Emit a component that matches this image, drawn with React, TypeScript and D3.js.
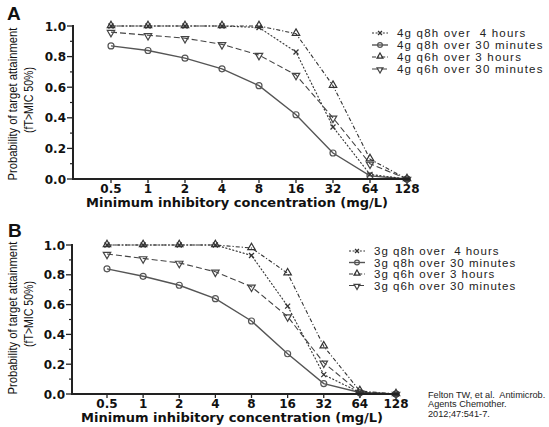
import React from "react";
import * as d3 from "d3";

const categories = ["0.5", "1", "2", "4", "8", "16", "32", "64", "128"];
const yTicks = [0, 0.2, 0.4, 0.6, 0.8, 1.0];
const yMinorTicks = [0.1, 0.3, 0.5, 0.7, 0.9];

// Panel A (4 g)
const a_q8h_4h = [1, 1, 1, 1, 0.99, 0.83, 0.34, 0.03, 0];
const a_q8h_30m = [0.87, 0.84, 0.79, 0.72, 0.61, 0.42, 0.17, 0.02, 0];
const a_q6h_3h = [1, 1, 1, 1, 1.0, 0.95, 0.61, 0.13, 0];
const a_q6h_30m = [0.96, 0.94, 0.92, 0.88, 0.81, 0.68, 0.4, 0.1, 0];
const a_labels = [
  "4g q8h over  4 hours",
  "4g q8h over 30 minutes",
  "4g q6h over 3 hours",
  "4g q6h over 30 minutes",
];

// Panel B (3 g)
const b_q8h_4h = [1, 1, 1, 1, 0.93, 0.59, 0.13, 0.01, 0];
const b_q8h_30m = [0.84, 0.79, 0.73, 0.64, 0.49, 0.27, 0.07, 0.01, 0];
const b_q6h_3h = [1, 1, 1, 1, 0.98, 0.81, 0.32, 0.02, 0];
const b_q6h_30m = [0.94, 0.91, 0.88, 0.82, 0.72, 0.52, 0.21, 0.01, 0];
const b_labels = [
  "3g q8h over  4 hours",
  "3g q8h over 30 minutes",
  "3g q6h over 3 hours",
  "3g q6h over 30 minutes",
];

const citation = ["Felton TW, et al.  Antimicrob.", "Agents Chemother.", "2012;47:541-7."];

const xTitle = "Minimum inhibitory concentration (mg/L)";
const yTitle1 = "Probability of target attainment";
const yTitle2 = "(fT>MIC 50%)";

type Style = { dash: string; color: string; width: number; marker: string };
const styles: Style[] = [
  { dash: "2,1.6", color: "#333", width: 1.1, marker: "x" },
  { dash: "", color: "#555", width: 1.4, marker: "circle" },
  { dash: "4,2,1.2,2", color: "#333", width: 1.1, marker: "tri" },
  { dash: "6,3", color: "#444", width: 1.1, marker: "itri" },
];

const FONT_BOLD = "'DejaVu Sans', sans-serif";
const FONT = "'Liberation Sans', Arial, sans-serif";

function Marker({ kind, x, y, color, scale = 1 }: { kind: string; x: number; y: number; color: string; scale?: number }) {
  if (kind === "circle") {
    return <circle cx={x} cy={y} r={3 * scale} fill="none" stroke={color} strokeWidth={1.2} />;
  }
  if (kind === "x") {
    const p = d3.symbol().type(d3.symbolTimes).size(18 * scale * scale)();
    return <path d={p || ""} transform={`translate(${x},${y})`} fill="none" stroke={color} strokeWidth={1.3} />;
  }
  const p = d3.symbol().type(d3.symbolTriangle).size(24 * scale * scale)();
  return (
    <path
      d={p || ""}
      transform={`translate(${x},${y + (kind === "itri" ? 0.5 : -0.5)}) rotate(${kind === "itri" ? 180 : 0})`}
      fill="none"
      stroke={color}
      strokeWidth={1.2}
    />
  );
}

type PanelProps = {
  letter: string;
  letterX: number;
  letterY: number;
  axisX: number;
  axisRight: number;
  y0: number;
  y1: number;
  xStart: number;
  xEnd: number;
  series: number[][];
  labels: string[];
  legendX: number;
  legendY: number;
  legendStep: number;
  legendFont: number;
  legendSpacing: number;
  titleX: number;
  yTitleY1: number;
  yTitleY2: number;
};

function Panel(p: PanelProps) {
  const x = d3.scalePoint<string>().domain(categories).range([p.xStart, p.xEnd]);
  const y = d3.scaleLinear().domain([0, 1]).range([p.y0, p.y1]);
  const line = d3
    .line<number>()
    .x((_, i) => x(categories[i]) as number)
    .y((d) => y(d));
  const order = [1, 3, 0, 2];
  return (
    <g>
      <text x={p.letterX} y={p.letterY} fontFamily={FONT} fontWeight="bold" fontSize={19} fill="#111">
        {p.letter}
      </text>
      {/* Y axis title */}
      <text
        transform={`translate(17,${p.yTitleY1}) rotate(-90)`}
        textAnchor="middle"
        fontFamily={FONT}
        fontSize={13}
        textLength={153}
        lengthAdjust="spacingAndGlyphs"
        fill="#111"
      >
        {yTitle1}
      </text>
      <text
        transform={`translate(33,${p.yTitleY2}) rotate(-90)`}
        textAnchor="middle"
        fontFamily={FONT}
        fontSize={12.5}
        textLength={66}
        lengthAdjust="spacingAndGlyphs"
        fill="#111"
      >
        {yTitle2}
      </text>
      {/* Y ticks */}
      {yTicks.map((t) => (
        <g key={"yt" + t}>
          <line x1={p.axisX - 6} x2={p.axisX} y1={y(t)} y2={y(t)} stroke="#222" strokeWidth={1.3} />
          <text
            x={p.axisX - 7}
            y={y(t) + 4.5}
            textAnchor="end"
            fontFamily={FONT_BOLD}
            fontWeight="bold"
            fontSize={12}
            fill="#111"
          >
            {t.toFixed(1)}
          </text>
        </g>
      ))}
      {yMinorTicks.map((t) => (
        <line key={"ym" + t} x1={p.axisX - 3} x2={p.axisX} y1={y(t)} y2={y(t)} stroke="#222" strokeWidth={1.2} />
      ))}
      {/* X ticks */}
      {categories.map((c) => (
        <g key={"xt" + c}>
          <line x1={x(c)} x2={x(c)} y1={p.y0} y2={p.y0 + 4} stroke="#222" strokeWidth={1.3} />
          <text
            x={x(c)}
            y={p.y0 + 14}
            textAnchor="middle"
            fontFamily={FONT_BOLD}
            fontWeight="bold"
            fontSize={12}
            fill="#111"
          >
            {c}
          </text>
        </g>
      ))}
      <text
        x={p.titleX}
        y={p.y0 + 28}
        textAnchor="middle"
        fontFamily={FONT_BOLD}
        fontWeight="bold"
        fontSize={13}
        fill="#111"
      >
        {xTitle}
      </text>
      {/* series */}
      {order.map((si) => {
        const s = styles[si];
        return (
          <g key={"s" + si}>
            <path
              d={line(p.series[si]) || ""}
              fill="none"
              stroke={s.color}
              strokeWidth={s.width}
              strokeDasharray={s.dash}
            />
            {p.series[si].map((v, i) => (
              <Marker key={i} kind={s.marker} x={x(categories[i]) as number} y={y(v)} color={s.color} />
            ))}
          </g>
        );
      })}
      {/* axes */}
      <line x1={p.axisX} x2={p.axisX} y1={p.y1 - 1} y2={p.y0 + 1} stroke="#222" strokeWidth={2} />
      <line x1={p.axisX - 1} x2={p.axisRight} y1={p.y0} y2={p.y0} stroke="#222" strokeWidth={2} />
      {/* legend */}
      {p.labels.map((lab, i) => {
        const s = styles[i];
        const ly = p.legendY + i * p.legendStep;
        return (
          <g key={"lg" + i}>
            <line
              x1={p.legendX}
              x2={p.legendX + 16}
              y1={ly}
              y2={ly}
              stroke={s.color}
              strokeWidth={s.width}
              strokeDasharray={s.dash}
            />
            <Marker kind={s.marker} x={p.legendX + 8} y={ly} color={s.color} scale={0.8} />
            <text
              x={p.legendX + 25}
              y={ly + 4}
              fontFamily={FONT}
              fontSize={p.legendFont}
              letterSpacing={p.legendSpacing}
              fill="#222"
              style={{ whiteSpace: "pre" }}
            >
              {lab}
            </text>
          </g>
        );
      })}
    </g>
  );
}

export default function App() {
  return (
    <div style={{ position: "absolute", left: 0, top: 0 }}>
      <svg width={549} height={427} style={{ display: "block", background: "#fff" }}>
        <rect width={549} height={427} fill="#fff" />
        <Panel
          letter="A"
          letterX={7}
          letterY={20}
          axisX={73}
          axisRight={410}
          y0={179}
          y1={26}
          xStart={111}
          xEnd={407}
          series={[a_q8h_4h, a_q8h_30m, a_q6h_3h, a_q6h_30m]}
          labels={a_labels}
          legendX={372}
          legendY={33}
          legendStep={12}
          legendFont={11.5}
          legendSpacing={1.2}
          titleX={237}
          yTitleY1={104}
          yTitleY2={100}
        />
        <Panel
          letter="B"
          letterX={8}
          letterY={237}
          axisX={72}
          axisRight={399}
          y0={394}
          y1={245}
          xStart={107}
          xEnd={396}
          series={[b_q8h_4h, b_q8h_30m, b_q6h_3h, b_q6h_30m]}
          labels={b_labels}
          legendX={349}
          legendY={251}
          legendStep={11.5}
          legendFont={11.5}
          legendSpacing={1}
          titleX={232}
          yTitleY1={318}
          yTitleY2={314}
        />
        {citation.map((c, i) => (
          <text key={c} x={428} y={397.5 + i * 9.6} fontFamily={FONT} fontSize={9.2} fill="#222" style={{ whiteSpace: "pre" }}>
            {c}
          </text>
        ))}
      </svg>
    </div>
  );
}
